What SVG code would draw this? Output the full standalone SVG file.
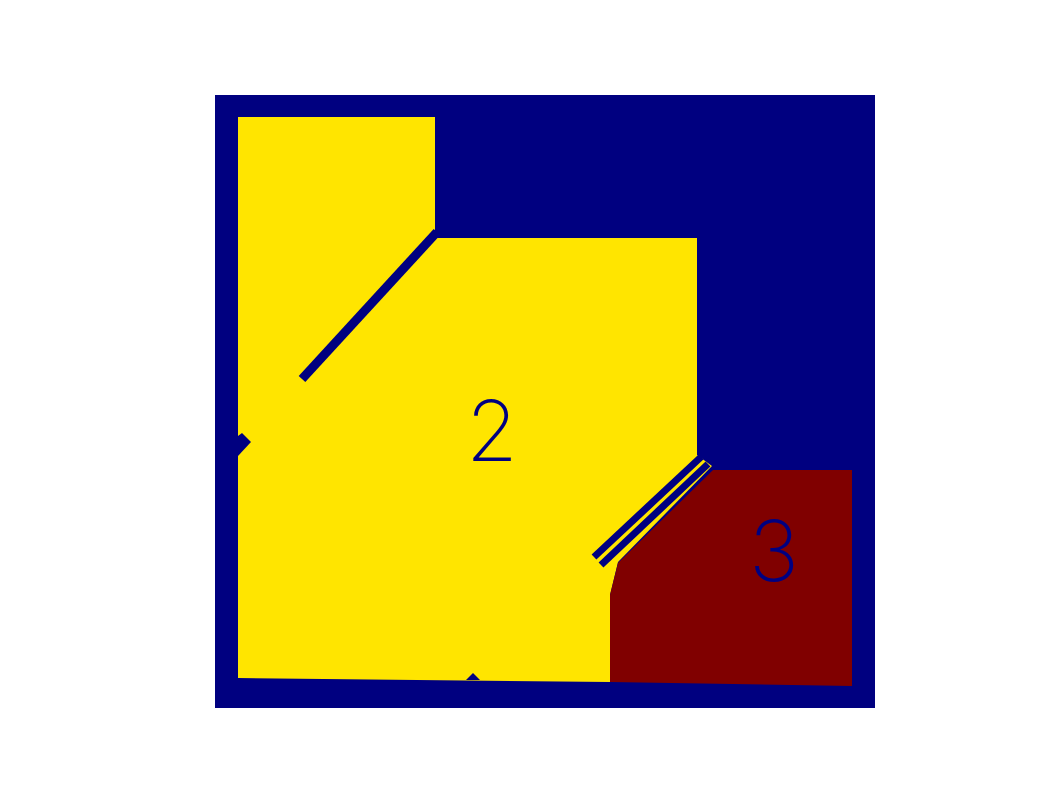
<svg xmlns="http://www.w3.org/2000/svg" width="1062" height="796" viewBox="0 0 1062 796">
<style>
.navy{fill:#000080}
.yel{fill:#FFE500}
.red{fill:#800000}
.ln{stroke:#000080;fill:none;stroke-linecap:butt}
.lbl{font-family:Inter,"DejaVu Sans",sans-serif;font-weight:250;font-size:84px;fill:#000080;text-anchor:middle}
</style>
<rect width="1062" height="796" fill="#ffffff"/>
<g id="frame"><rect class="navy" x="215" y="95" width="660" height="613"/></g>
<g id="region2">
<polygon class="yel" points="238,117 435,117 435,238 697,238 697,455 712,466 618,562 610,595 610,682 238,678"/>
<polygon class="navy" points="238,436 242,433 251,442 238,456"/>
<polygon class="navy" points="466,680 473,673 480,680"/>
<text class="lbl" x="492" y="461">2</text>
</g>
<g id="region3">
<polygon class="red" points="713,470 852,470 852,686 610,682 610,595 618,563"/>
<text class="lbl" x="774" y="581">3</text>
</g>
<g id="connectors">
<line class="ln" x1="437" y1="232" x2="302" y2="379" stroke-width="9"/>
<line class="ln" x1="701" y1="457" x2="594" y2="557" stroke-width="7"/>
<line class="ln" x1="708" y1="464" x2="601" y2="565" stroke-width="7"/>
</g>
</svg>
